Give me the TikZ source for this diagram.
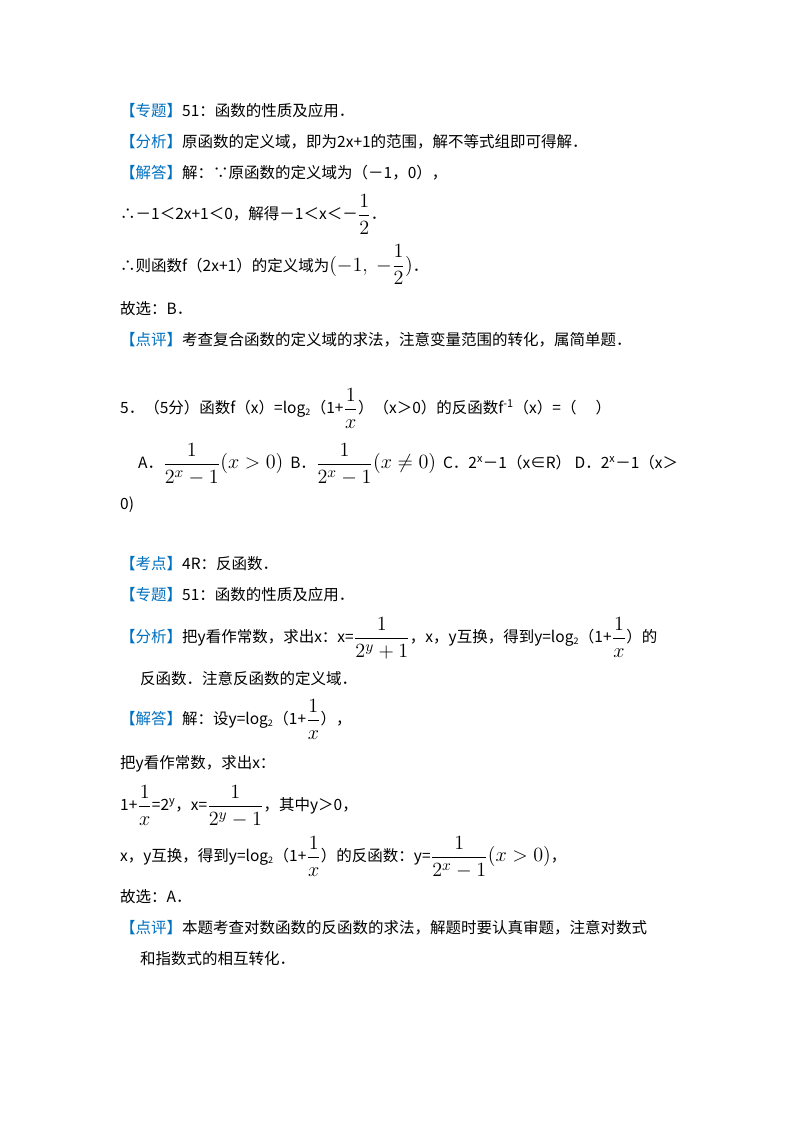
\documentclass[tikz,border=0pt]{standalone}
\usepackage{amsmath}
\usepackage{graphicx}
\usepackage{fontspec}
\setmainfont{Noto Sans CJK SC}
\definecolor{tagblue}{RGB}{0,112,192}
\newcommand{\tg}[1]{\textcolor{tagblue}{【#1】}}
\newcommand{\fr}[2]{\raisebox{-0.2ex}{\scalebox{1.4}{$\dfrac{#1}{#2}$}}}
\newcommand{\mm}[1]{\scalebox{1.4}{$#1$}}
\newcommand{\lsb}{\textsubscript{\fontsize{9}{9}\selectfont 2}}
\begin{document}
\begin{tikzpicture}[x=1pt,y=-1pt,every node/.style={anchor=base west,inner sep=0pt,font=\fontsize{15.5}{18}\selectfont}]
\useasboundingbox (0,0) rectangle (800,1133);
\node (l1) at (120,116) {\tg{专题}51：函数的性质及应用．};
\node (l2) at (120,147) {\tg{分析}原函数的定义域，即为2x+1的范围，解不等式组即可得解．};
\node (l3) at (120,178) {\tg{解答}解：∵原函数的定义域为（－1，0），};
\node (l4) at (120,219) {∴－1＜2x+1＜0，解得－1＜x＜－\fr{1}{2}．};
\node (l5) at (120,271) {∴则函数f（2x+1）的定义域为\mm{(-1,\ -\dfrac{1}{2})}．};
\node (l6) at (120,314) {故选：B．};
\node (l7) at (120,345) {\tg{点评}考查复合函数的定义域的求法，注意变量范围的转化，属简单题．};
\node (l8) at (120,413) {5．（5分）函数f（x）=log\lsb（1+\fr{1}{x}）（x＞0）的反函数f\textsuperscript{-1}（x）=（\quad\ ）};
\node (l9) at (138,468) {A．\fr{1}{2^x-1}\mm{(x>0)}\ \ B．\fr{1}{2^x-1}\mm{(x\neq0)}\ \ C．2\textsuperscript{x}－1（x∈R）\ D．2\textsuperscript{x}－1（x＞};
\node (l10) at (120,509) {0)};
\node (l11) at (120,569) {\tg{考点}4R：反函数．};
\node (l12) at (120,600) {\tg{专题}51：函数的性质及应用．};
\node (l13) at (120,642) {\tg{分析}把y看作常数，求出x：x=\fr{1}{2^y+1}，x，y互换，得到y=log\lsb（1+\fr{1}{x}）的};
\node (l14) at (140,684) {反函数．注意反函数的定义域．};
\node (l15) at (120,724) {\tg{解答}解：设y=log\lsb（1+\fr{1}{x}），};
\node (l16) at (120,768) {把y看作常数，求出x：};
\node (l17) at (120,810) {1+\fr{1}{x}=2\textsuperscript{y}，x=\fr{1}{2^y-1}，其中y＞0，};
\node (l18) at (120,861) {x，y互换，得到y=log\lsb（1+\fr{1}{x}）的反函数：y=\fr{1}{2^x-1}\mm{(x>0)}，};
\node (l19) at (120,902) {故选：A．};
\node (l20) at (120,933) {\tg{点评}本题考查对数函数的反函数的求法，解题时要认真审题，注意对数式};
\node (l21) at (140,964) {和指数式的相互转化．};
\end{tikzpicture}
\end{document}
